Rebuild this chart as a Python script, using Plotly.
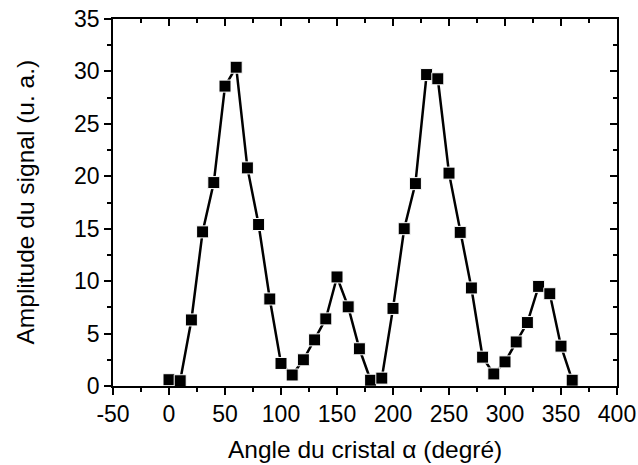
import plotly.graph_objects as go

angles = [0, 10, 20, 30, 40, 50, 60, 70, 80, 90, 100, 110, 120, 130, 140, 150, 160, 170,
          180, 190, 200, 210, 220, 230, 240, 250, 260, 270, 280, 290, 300, 310, 320, 330,
          340, 350, 360]
amplitude = [0.6, 0.5, 6.3, 14.7, 19.4, 28.6, 30.4, 20.8, 15.4, 8.3, 2.15, 1.05, 2.5, 4.4,
             6.4, 10.4, 7.55, 3.55, 0.55, 0.75, 7.4, 15.0, 19.3, 29.7, 29.3, 20.3, 14.65,
             9.35, 2.75, 1.15, 2.3, 4.2, 6.05, 9.5, 8.8, 3.8, 0.55]

x_ticks = [-50, 0, 50, 100, 150, 200, 250, 300, 350, 400]
x_tick_labels = ["-50", "0", "50", "100", "150", "200", "250", "300", "350", "400"]
y_ticks = [0, 5, 10, 15, 20, 25, 30, 35]
y_tick_labels = ["0", "5", "10", "15", "20", "25", "30", "35"]

x_title = "Angle du cristal α (degré)"
y_title = "Amplitude du signal (u. a.)"

FONT = "Liberation Sans, Arial, sans-serif"

fig = go.Figure()
fig.add_trace(go.Scatter(
    x=angles, y=amplitude, mode="lines+markers",
    line=dict(color="black", width=2.5),
    marker=dict(symbol="square", size=12, color="black",
                line=dict(color="white", width=1)),
    showlegend=False,
))
# invisible trace to host the mirrored (top/right) axes with inward ticks
fig.add_trace(go.Scatter(
    x=angles, y=amplitude, mode="markers", xaxis="x2", yaxis="y2",
    marker=dict(opacity=0), hoverinfo="skip", showlegend=False,
))

axis_common = dict(
    automargin=False, ticklabeloverflow="allow",
    showgrid=False, zeroline=False, showline=True, linecolor="black", linewidth=1.5,
    tickcolor="black", tickwidth=1.5, ticklen=7,
    tickfont=dict(family=FONT, size=23, color="black"),
)
mirror_common = dict(
    automargin=False, showticklabels=False, ticks="inside",
    showgrid=False, zeroline=False, showline=True, linecolor="black", linewidth=1.5,
    tickcolor="black", tickwidth=1.5, ticklen=7,
)

fig.update_layout(
    width=638, height=465,
    margin=dict(l=113, r=21, t=19, b=79),
    paper_bgcolor="white", plot_bgcolor="white",
    xaxis=dict(range=[-50, 400], tickvals=x_ticks, ticktext=x_tick_labels, ticks="outside",
               minor=dict(dtick=25, ticks="outside", ticklen=4, tickwidth=1.5, tickcolor="black"),
               **axis_common),
    yaxis=dict(range=[0, 35], tickvals=y_ticks, ticktext=y_tick_labels, ticks="outside",
               minor=dict(dtick=2.5, ticks="outside", ticklen=4, tickwidth=1.5, tickcolor="black"),
               **axis_common),
    xaxis2=dict(range=[-50, 400], overlaying="x", side="top", anchor="y", tickvals=x_ticks,
                minor=dict(dtick=25, ticks="inside", ticklen=4, tickwidth=1.5, tickcolor="black"),
                **mirror_common),
    yaxis2=dict(range=[0, 35], overlaying="y", side="right", anchor="x", tickvals=y_ticks,
                minor=dict(dtick=2.5, ticks="inside", ticklen=4, tickwidth=1.5, tickcolor="black"),
                **mirror_common),
    annotations=[
        dict(text=x_title, xref="paper", yref="paper", x=0.5, y=0, xanchor="center",
             yanchor="middle", yshift=-63, showarrow=False,
             font=dict(family=FONT, size=24.5, color="black")),
        dict(text=y_title, xref="paper", yref="paper", x=0, y=0.5, xanchor="center",
             yanchor="middle", xshift=-88, textangle=-90, showarrow=False,
             font=dict(family=FONT, size=24.5, color="black")),
    ],
)

# remove the default 8px page margin so the figure fills the window exactly
fig.write_html("out.html", config={"displayModeBar": False},
               post_script="document.body.style.margin='0';document.body.style.overflow='hidden';")
